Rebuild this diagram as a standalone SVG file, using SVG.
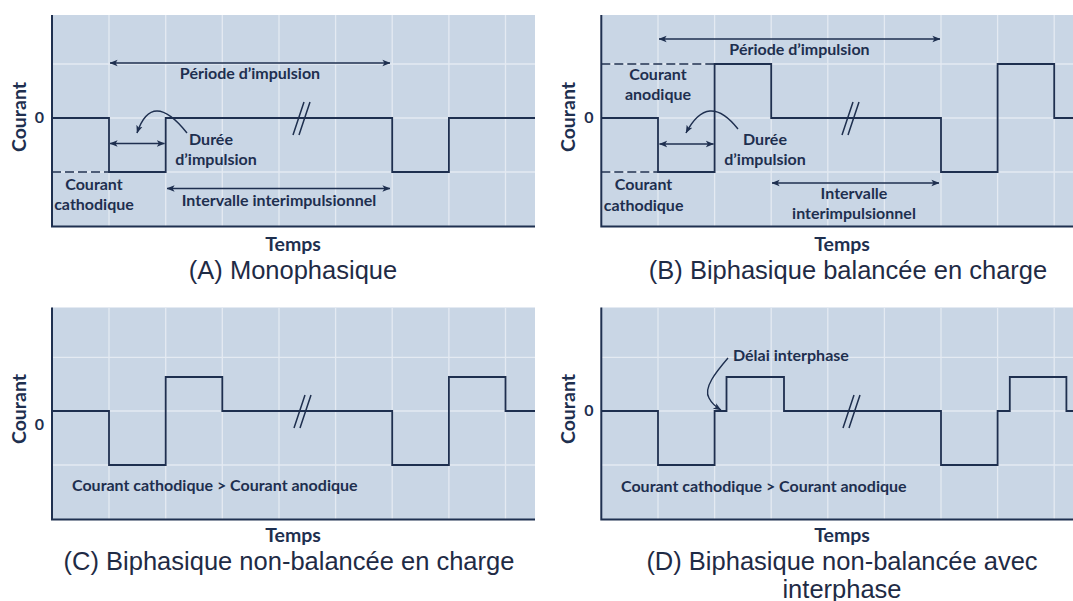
<svg xmlns="http://www.w3.org/2000/svg" width="1073" height="601" viewBox="0 0 1073 601">
<defs>
<marker id="ah" viewBox="0 0 10 10" refX="9.5" refY="5" markerWidth="8" markerHeight="8" markerUnits="userSpaceOnUse" orient="auto-start-reverse"><path d="M0,1 L10,5 L0,9 L2.5,5 z" fill="#1e2f4f"/></marker>
<style>
.bg{fill:#c9d6e5}
.grid{stroke:#e4eaf2;stroke-width:1.3;fill:none}
.axis{stroke:#1f3050;stroke-width:2;fill:none}
.wave{stroke:#1e2f4f;stroke-width:1.8;fill:none}
.dash{stroke:#1e2f4f;stroke-width:1.5;stroke-dasharray:9 4;fill:none}
.brk{stroke:#1e2f4f;stroke-width:1.5;fill:none}
.arr{stroke:#1e2f4f;stroke-width:1.4;fill:none;marker-start:url(#ah);marker-end:url(#ah)}
.carr{stroke:#1e2f4f;stroke-width:1.4;fill:none;marker-end:url(#ah)}
.lbl{font-family:Lato,"Open Sans",sans-serif;font-weight:700;font-size:16px;fill:#1e2f4f;text-anchor:middle}
.st{text-anchor:start}
.ax{font-size:19.5px}
.zero{font-size:16px}
.title{font-family:"Liberation Sans",Arial,sans-serif;font-size:25.5px;fill:#1f2b45;text-anchor:middle}
</style>
</defs>
<rect width="1073" height="601" fill="#ffffff"/>

<g id="panelA">
<rect class="bg" x="52" y="15" width="483" height="212"/>
<path class="grid" d="M109,15V226M165.7,15V226M222.3,15V226M279,15V226M335.6,15V226M392.2,15V226M448.9,15V226M505.5,15V226M52,64H535M52,118H535M52,172H535"/>
<path class="axis" d="M52,15V226.5H535"/>
<path class="wave" d="M52,118H109V172H165.7V118H392.2V172H448.9V118H535"/>
<path class="dash" d="M52,172H109"/>
<path class="brk" d="M293,135L304,102M299,135L310,102"/>
<text class="lbl" x="250" y="79">Période d’impulsion</text>
<text class="lbl" x="211" y="145">Durée</text>
<text class="lbl" x="216" y="165">d’impulsion</text>
<text class="lbl" x="94" y="190">Courant</text>
<text class="lbl" x="94" y="210">cathodique</text>
<text class="lbl" x="279" y="206">Intervalle interimpulsionnel</text>
<text class="lbl zero" x="39.5" y="123">0</text>
<text class="lbl ax" transform="translate(26,117) rotate(-90)">Courant</text>
<text class="lbl ax" x="293" y="251">Temps</text>
<text class="title" x="293" y="279">(A) Monophasique</text>
</g>

<g id="panelB">
<rect class="bg" x="601.3" y="15" width="471.7" height="212"/>
<path class="grid" d="M658,15V226M714.6,15V226M771.2,15V226M827.8,15V226M884.4,15V226M941,15V226M997.6,15V226M1054.2,15V226M601,64H1073M601,118H1073M601,172H1073"/>
<path class="axis" d="M601.3,15V226.5H1073"/>
<path class="wave" d="M601.3,118H658V172H714.6V64H771.2V118H941V172H997.6V64H1054.2V118H1073"/>
<path class="dash" d="M601.3,64H714.6M601.3,172H658"/>
<path class="brk" d="M842,135L853,102M848,135L859,102"/>
<text class="lbl" x="799.5" y="55">Période d’impulsion</text>
<text class="lbl" x="658" y="80">Courant</text>
<text class="lbl" x="658" y="100">anodique</text>
<text class="lbl" x="765" y="145">Durée</text>
<text class="lbl" x="765" y="165">d’impulsion</text>
<text class="lbl" x="643.6" y="190">Courant</text>
<text class="lbl" x="643.6" y="210.5">cathodique</text>
<text class="lbl" x="854" y="199">Intervalle</text>
<text class="lbl" x="854" y="219">interimpulsionnel</text>
<text class="lbl zero" x="589" y="123">0</text>
<text class="lbl ax" transform="translate(575,117) rotate(-90)">Courant</text>
<text class="lbl ax" x="842" y="251">Temps</text>
<text class="title" x="848" y="279">(B) Biphasique balancée en charge</text>
</g>

<g id="panelC">
<rect class="bg" x="52" y="307.5" width="483" height="212.5"/>
<path class="grid" d="M109,307.5V519M165.7,307.5V519M222.3,307.5V519M279,307.5V519M335.6,307.5V519M392.2,307.5V519M448.9,307.5V519M505.5,307.5V519M52,357.3H535M52,411H535M52,465H535"/>
<path class="axis" d="M52,307.5V519.5H535"/>
<path class="wave" d="M52,411H109V465H165.7V377H222.3V411H392.2V465H448.9V377H505.5V411H535"/>
<path class="brk" d="M294,428L305,395M300,428L311,395"/>
<text class="lbl st" x="72" y="491">Courant cathodique &gt; Courant anodique</text>
<text class="lbl zero" x="39.5" y="430">0</text>
<text class="lbl ax" transform="translate(26,409) rotate(-90)">Courant</text>
<text class="lbl ax" x="293" y="542">Temps</text>
<text class="title" x="289" y="570">(C) Biphasique non-balancée en charge</text>
</g>

<g id="panelD">
<rect class="bg" x="601.3" y="307.5" width="471.7" height="212.5"/>
<path class="grid" d="M658,307.5V519M714.6,307.5V519M771.2,307.5V519M827.8,307.5V519M884.4,307.5V519M941,307.5V519M997.6,307.5V519M1054.2,307.5V519M601,357.3H1073M601,411H1073M601,465H1073"/>
<path class="axis" d="M601.3,307.5V519.5H1073"/>
<path class="wave" d="M601.3,411H658V465H714.6V411H726.5V377H784V411H941V465H997.6V411H1009.8V377H1066.4V411H1073"/>
<path class="brk" d="M843,428L854,395M849,428L860,395"/>
<text class="lbl st" x="733" y="361">Délai interphase</text>
<text class="lbl st" x="621" y="492">Courant cathodique &gt; Courant anodique</text>
<text class="lbl zero" x="589" y="416">0</text>
<text class="lbl ax" transform="translate(575,409) rotate(-90)">Courant</text>
<text class="lbl ax" x="842" y="542">Temps</text>
<text class="title" x="842" y="570">(D) Biphasique non-balancée avec</text>
<text class="title" x="842" y="598">interphase</text>
</g>

<g id="connectors">
<path class="arr" d="M110,63H390"/>
<path class="arr" d="M110,143.5H164.5"/>
<path class="arr" d="M167,188.5H390"/>
<path class="carr" d="M187,133Q152,89 137,133"/>
<path class="arr" d="M659,39H940"/>
<path class="arr" d="M659.5,144H713.5"/>
<path class="arr" d="M772,183H939"/>
<path class="carr" d="M738,129Q708,91 686,133"/>
<path class="carr" d="M728,358C716,372 703,388 709,398C712,404 716,407 721,410"/>
</g>
</svg>
